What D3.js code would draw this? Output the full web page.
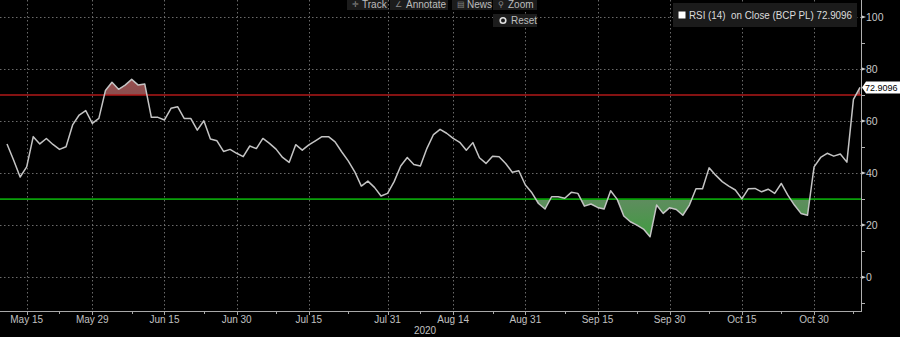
<!DOCTYPE html>
<html>
<head>
<meta charset="utf-8">
<script src="https://cdn.jsdelivr.net/npm/d3@7"></script>
<style>
  html, body { margin: 0; padding: 0; background: #000; }
  svg { display: block; font-family: 'Liberation Sans', Arial, sans-serif; }
</style>
</head>
<body>
<div id="chart"></div>
<script>
// RSI (14) on Close, BCP PL - one value per trading day, 12 May 2020 to 10 Nov 2020
const rsiValues = [
  51.2, 45.0, 38.5, 42.4, 54.0, 51.2, 53.3, 51.0, 49.1, 50.1,
  58.5, 62.3, 64.0, 59.1, 61.0, 71.7, 74.9, 72.2, 73.8, 76.0,
  73.8, 74.2, 61.4, 61.4, 60.4, 64.9, 65.5, 61.0, 61.0, 56.5,
  60.1, 53.1, 52.4, 48.3, 49.1, 47.6, 46.3, 50.4, 49.4, 53.3,
  51.4, 49.2, 46.0, 44.1, 50.9, 48.8, 50.8, 52.4, 54.0, 54.0,
  52.0, 48.2, 44.7, 40.5, 35.0, 36.9, 34.5, 31.2, 32.2, 36.7,
  42.7, 46.0, 43.3, 42.7, 49.5, 54.8, 56.8, 55.3, 53.3, 51.8,
  48.8, 51.7, 45.9, 43.7, 46.5, 46.3, 43.7, 40.3, 40.9, 35.4,
  32.4, 28.3, 26.2, 30.9, 30.9, 30.3, 32.6, 32.2, 27.3, 28.1,
  26.8, 26.2, 33.2, 29.9, 23.5, 21.3, 20.0, 18.5, 15.5, 27.7,
  24.5, 26.7, 26.0, 23.8, 27.7, 34.0, 34.0, 42.0, 39.2, 36.7,
  35.0, 33.5, 30.1, 34.0, 34.1, 32.8, 33.8, 32.2, 36.0, 31.5,
  27.7, 24.5, 23.8, 42.4, 46.0, 47.6, 46.5, 47.3, 44.2, 68.3,
  72.9096
];

// first and last trading day of the series
const startDate = new Date(2020, 4, 12);
const endDate = new Date(2020, 10, 10);

// labelled dates on the x axis
const xTickLabels = ['May 15', 'May 29', 'Jun 15', 'Jun 30', 'Jul 15', 'Jul 31',
  'Aug 14', 'Aug 31', 'Sep 15', 'Sep 30', 'Oct 15', 'Oct 30'];
const yearLabel = '2020';

// y axis ticks and the overbought / oversold levels
const yTicks = [0, 20, 40, 60, 80, 100];
const yMinorTicks = [-10, 10, 30, 50, 70, 90];
const upperLevel = 70;
const lowerLevel = 30;

// legend and toolbar texts
const legendText = 'RSI (14)  on Close (BCP PL) 72.9096';
const lastLabel = '72.9096';
const toolButtons = ['Track', 'Annotate', 'News', 'Zoom'];

// trading days (weekdays only) as the x categories
const tradingDays = d3.timeDay.range(startDate, d3.timeDay.offset(endDate, 1))
  .filter(d => d.getDay() !== 0 && d.getDay() !== 6);
const data = rsiValues.map((v, i) => ({ i: i, date: tradingDays[i], value: v }));

const parseTick = d3.timeParse('%b %d %Y');
const fmtKey = d3.timeFormat('%Y-%m-%d');
const dayIndex = new Map(tradingDays.map((d, i) => [fmtKey(d), i]));
const majorTicks = xTickLabels.map(label => ({
  label: label,
  i: dayIndex.get(fmtKey(parseTick(label + ' ' + yearLabel)))
}));
// minor ticks halfway between the labelled ones
const minorTicks = majorTicks.map((t, k) => k < majorTicks.length - 1
  ? Math.round((t.i + majorTicks[k + 1].i) / 2)
  : t.i + 6);

// dimensions
const totalWidth = 900;
const totalHeight = 337;
const plotWidth = 861;
const plotHeight = 311;

const svg = d3.select('#chart')
  .append('svg')
    .attr('width', totalWidth)
    .attr('height', totalHeight);

// scales
const x = d3.scaleLinear()
  .domain([0, rsiValues.length - 1])
  .range([7, 860]);
const y = d3.scaleLinear()
  .domain([-13, 106.5])
  .range([plotHeight, 0]);

// gradients for the filled zones
const defs = svg.append('defs');
const greenGrad = defs.append('linearGradient')
  .attr('id', 'greenGrad')
  .attr('gradientUnits', 'userSpaceOnUse')
  .attr('x1', 0).attr('x2', 0)
  .attr('y1', y(lowerLevel)).attr('y2', y(14));
greenGrad.append('stop').attr('offset', 0).attr('stop-color', '#5f8c5f');
greenGrad.append('stop').attr('offset', 1).attr('stop-color', '#3d9d3d');

const redGrad = defs.append('linearGradient')
  .attr('id', 'redGrad')
  .attr('gradientUnits', 'userSpaceOnUse')
  .attr('x1', 0).attr('x2', 0)
  .attr('y1', y(upperLevel)).attr('y2', y(77));
redGrad.append('stop').attr('offset', 0).attr('stop-color', '#8a4e4e');
redGrad.append('stop').attr('offset', 1).attr('stop-color', '#9a4f4f');

// clip regions: above the upper level, below the lower level
defs.append('clipPath').attr('id', 'clipAbove')
  .append('rect')
    .attr('x', 0).attr('y', 0)
    .attr('width', plotWidth).attr('height', y(upperLevel));
defs.append('clipPath').attr('id', 'clipBelow')
  .append('rect')
    .attr('x', 0).attr('y', y(lowerLevel))
    .attr('width', plotWidth).attr('height', plotHeight - y(lowerLevel));

// dotted grid
svg.append('g')
  .selectAll('line')
  .data(yTicks)
  .join('line')
    .attr('x1', 0)
    .attr('x2', plotWidth)
    .attr('y1', d => Math.round(y(d)) + 0.5)
    .attr('y2', d => Math.round(y(d)) + 0.5)
    .attr('stroke', '#6a6a6a')
    .attr('stroke-width', 1)
    .attr('stroke-dasharray', '1.5,2.5');
svg.append('g')
  .selectAll('line')
  .data(majorTicks)
  .join('line')
    .attr('x1', d => Math.round(x(d.i)) + 0.5)
    .attr('x2', d => Math.round(x(d.i)) + 0.5)
    .attr('y1', 0)
    .attr('y2', plotHeight)
    .attr('stroke', '#6a6a6a')
    .attr('stroke-width', 1)
    .attr('stroke-dasharray', '1.5,2.5');

// filled zones between the line and the levels
const areaUpper = d3.area()
  .x(d => x(d.i))
  .y0(y(upperLevel))
  .y1(d => y(d.value));
const areaLower = d3.area()
  .x(d => x(d.i))
  .y0(y(lowerLevel))
  .y1(d => y(d.value));

svg.append('path')
  .datum(data)
  .attr('d', areaUpper)
  .attr('fill', 'url(#redGrad)')
  .attr('clip-path', 'url(#clipAbove)');
svg.append('path')
  .datum(data)
  .attr('d', areaLower)
  .attr('fill', 'url(#greenGrad)')
  .attr('clip-path', 'url(#clipBelow)');

// level lines
svg.append('line')
  .attr('x1', 0).attr('x2', plotWidth)
  .attr('y1', y(upperLevel)).attr('y2', y(upperLevel))
  .attr('stroke', '#b01818')
  .attr('stroke-width', 1.3);
svg.append('line')
  .attr('x1', 0).attr('x2', plotWidth)
  .attr('y1', y(lowerLevel)).attr('y2', y(lowerLevel))
  .attr('stroke', '#0aa00a')
  .attr('stroke-width', 1.6);

// RSI line
const line = d3.line()
  .x(d => x(d.i))
  .y(d => y(d.value));
svg.append('path')
  .datum(data)
  .attr('d', line)
  .attr('fill', 'none')
  .attr('stroke', '#c4c4c4')
  .attr('stroke-width', 1.5)
  .attr('stroke-linejoin', 'round');

// right axis
const yAxis = svg.append('g');
yAxis.append('line')
  .attr('x1', plotWidth + 0.5).attr('x2', plotWidth + 0.5)
  .attr('y1', 0).attr('y2', plotHeight + 0.5)
  .attr('stroke', '#b0b0b0');
yAxis.selectAll('.major')
  .data(yTicks)
  .join('path')
    .attr('class', 'major')
    .attr('d', d => `M${plotWidth + 1},${y(d) - 1.5}L${plotWidth + 5},${y(d)}L${plotWidth + 1},${y(d) + 1.5}Z`)
    .attr('fill', '#d0d0d0');
yAxis.selectAll('.minor')
  .data(yMinorTicks)
  .join('line')
    .attr('class', 'minor')
    .attr('x1', plotWidth + 1).attr('x2', plotWidth + 4)
    .attr('y1', d => Math.round(y(d)) + 0.5)
    .attr('y2', d => Math.round(y(d)) + 0.5)
    .attr('stroke', '#b0b0b0');
yAxis.selectAll('text')
  .data(yTicks)
  .join('text')
    .attr('x', plotWidth + 5)
    .attr('y', d => y(d))
    .attr('dy', '0.35em')
    .attr('fill', '#c8c8c8')
    .style('font-size', '10.5px')
    .text(d => d);

// bottom axis
const xAxis = svg.append('g');
xAxis.append('line')
  .attr('x1', 0).attr('x2', plotWidth + 1)
  .attr('y1', plotHeight + 0.5).attr('y2', plotHeight + 0.5)
  .attr('stroke', '#a8a8a8');
xAxis.selectAll('.major')
  .data(majorTicks)
  .join('line')
    .attr('class', 'major')
    .attr('x1', d => Math.round(x(d.i)) + 0.5)
    .attr('x2', d => Math.round(x(d.i)) + 0.5)
    .attr('y1', plotHeight).attr('y2', plotHeight + 4)
    .attr('stroke', '#a8a8a8');
xAxis.selectAll('.minor')
  .data(minorTicks)
  .join('line')
    .attr('class', 'minor')
    .attr('x1', d => Math.round(x(d)) + 0.5)
    .attr('x2', d => Math.round(x(d)) + 0.5)
    .attr('y1', plotHeight).attr('y2', plotHeight + 3)
    .attr('stroke', '#a8a8a8');
xAxis.selectAll('text')
  .data(majorTicks)
  .join('text')
    .attr('x', d => x(d.i))
    .attr('y', 319)
    .attr('dy', '0.35em')
    .attr('text-anchor', 'middle')
    .attr('fill', '#c0c0c0')
    .style('font-size', '10px')
    .text(d => d.label);
xAxis.append('text')
  .attr('x', 425)
  .attr('y', 330)
  .attr('dy', '0.35em')
  .attr('text-anchor', 'middle')
  .attr('fill', '#c0c0c0')
  .style('font-size', '10px')
  .text(yearLabel);

// tag with the last value on the right axis
const last = data[data.length - 1];
const tagY = y(last.value);
svg.append('path')
  .attr('d', `M${plotWidth + 1},${tagY}L${plotWidth + 5},${tagY - 6}L${totalWidth},${tagY - 6}L${totalWidth},${tagY + 6}L${plotWidth + 5},${tagY + 6}Z`)
  .attr('fill', '#ffffff');
svg.append('text')
  .attr('x', plotWidth + 4)
  .attr('y', tagY)
  .attr('dy', '0.35em')
  .attr('fill', '#000')
  .style('font-size', '9px')
  .text(lastLabel);

// legend box
const legend = svg.append('g');
legend.append('rect')
  .attr('x', 673).attr('y', 3)
  .attr('width', 184).attr('height', 24)
  .attr('fill', '#1b1b1b');
legend.append('rect')
  .attr('x', 678.5).attr('y', 11.5)
  .attr('width', 7).attr('height', 7)
  .attr('fill', '#ffffff');
legend.append('text')
  .attr('x', 689)
  .attr('y', 15.5)
  .attr('dy', '0.35em')
  .attr('fill', '#dcdcdc')
  .attr('textLength', 163)
  .attr('lengthAdjust', 'spacingAndGlyphs')
  .attr('xml:space', 'preserve')
  .style('font-size', '10.5px')
  .style('white-space', 'pre')
  .text(legendText);

// toolbar buttons at the top
const btnX = [347, 390, 452, 493];
const btnW = [41, 58, 40, 44];
const btnIcons = ['\u271B', '\u2220', '\u25A4', '\u26B2'];
const toolbar = svg.append('g');
toolButtons.forEach((name, k) => {
  toolbar.append('rect')
    .attr('x', btnX[k]).attr('y', -4)
    .attr('width', btnW[k]).attr('height', 14)
    .attr('fill', '#1c1c1c');
  toolbar.append('text')
    .attr('x', btnX[k] + 5)
    .attr('y', 4.5)
    .attr('dy', '0.35em')
    .attr('fill', '#8a8a8a')
    .style('font-size', '8px')
    .text(btnIcons[k]);
  toolbar.append('text')
    .attr('x', btnX[k] + (k === 1 ? 16 : 15))
    .attr('y', 4.5)
    .attr('dy', '0.35em')
    .attr('fill', '#bdbdbd')
    .style('font-size', '10px')
    .text(name);
});
toolbar.append('rect')
  .attr('x', 493).attr('y', 14)
  .attr('width', 44).attr('height', 13)
  .attr('fill', '#1c1c1c');
toolbar.append('circle')
  .attr('cx', 503).attr('cy', 20.5)
  .attr('r', 2.8)
  .attr('fill', 'none')
  .attr('stroke', '#e0e0e0')
  .attr('stroke-width', 1.6);
toolbar.append('text')
  .attr('x', 511)
  .attr('y', 20.5)
  .attr('dy', '0.35em')
  .attr('fill', '#bdbdbd')
  .style('font-size', '10px')
  .text('Reset');
</script>
</body>
</html>
